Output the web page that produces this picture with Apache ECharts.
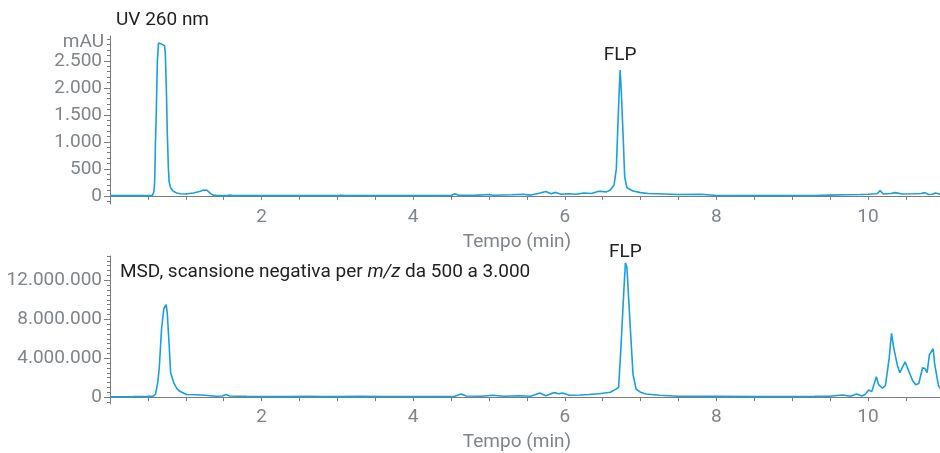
<!DOCTYPE html>
<html>
<head>
<meta charset="utf-8">
<script src="https://cdn.jsdelivr.net/npm/echarts@6/dist/echarts.min.js"></script>
<style>
  html, body { margin: 0; padding: 0; background: #fff; }
  #chart { width: 940px; height: 453px; }
</style>
</head>
<body>
<div id="chart"></div>
<script>
// UV 260 nm trace (time in min, absorbance in mAU)
const uvTime = [0, 0.2, 0.4, 0.52, 0.56, 0.58, 0.59, 0.6, 0.61, 0.625, 0.64, 0.66, 0.68, 0.7, 0.72, 0.73, 0.745, 0.755, 0.77, 0.78, 0.8, 0.83, 0.88, 0.93, 1.0, 1.1, 1.18, 1.24, 1.28, 1.32, 1.36, 1.42, 1.55, 1.58, 1.62, 2.0, 2.5, 3.0, 3.05, 3.1, 3.5, 4.0, 4.3, 4.5, 4.55, 4.6, 4.8, 5.0, 5.05, 5.3, 5.45, 5.55, 5.65, 5.75, 5.82, 5.88, 5.95, 6.05, 6.15, 6.25, 6.35, 6.45, 6.55, 6.6, 6.65, 6.68, 6.7, 6.72, 6.73, 6.745, 6.77, 6.79, 6.82, 6.9, 7.0, 7.1, 7.3, 7.5, 7.8, 8.0, 8.5, 9.0, 9.3, 9.5, 9.7, 9.9, 10.0, 10.12, 10.16, 10.2, 10.3, 10.36, 10.45, 10.6, 10.7, 10.75, 10.8, 10.85, 10.89, 10.95];
const uvValue = [5, 5, 5, 5, 10, 80, 280, 1000, 1500, 2500, 2830, 2840, 2810, 2830, 2780, 2630, 1900, 1210, 530, 260, 150, 90, 55, 40, 35, 55, 80, 110, 105, 50, 15, 5, 5, 15, 5, 5, 5, 5, 12, 5, 5, 5, 5, 8, 40, 10, 10, 25, 12, 20, 30, 15, 45, 80, 40, 65, 30, 40, 30, 55, 45, 85, 75, 110, 200, 500, 1300, 2010, 2330, 1950, 1090, 355, 150, 90, 60, 45, 35, 25, 30, 8, 5, 5, 8, 15, 20, 25, 30, 40, 100, 35, 45, 60, 35, 40, 45, 60, 25, 30, 55, 30];

// MSD negative scan trace (time in min, counts)
const msdTime = [0, 0.3, 0.5, 0.57, 0.6, 0.63, 0.65, 0.68, 0.71, 0.74, 0.755, 0.78, 0.8, 0.84, 0.88, 0.92, 1.01, 1.14, 1.25, 1.4, 1.48, 1.53, 1.58, 1.8, 2.0, 2.4, 2.6, 2.8, 3.0, 3.3, 3.6, 4.0, 4.3, 4.55, 4.63, 4.7, 4.9, 5.05, 5.2, 5.4, 5.55, 5.67, 5.75, 5.86, 5.92, 5.97, 6.06, 6.2, 6.32, 6.45, 6.5, 6.6, 6.67, 6.71, 6.74, 6.78, 6.8, 6.82, 6.86, 6.9, 6.94, 7.0, 7.07, 7.25, 7.5, 7.8, 8.0, 8.5, 9.0, 9.3, 9.49, 9.66, 9.77, 9.85, 9.92, 9.96, 10.01, 10.05, 10.11, 10.14, 10.19, 10.23, 10.28, 10.31, 10.34, 10.39, 10.42, 10.49, 10.53, 10.59, 10.63, 10.67, 10.72, 10.75, 10.78, 10.81, 10.86, 10.88, 10.93, 10.95];
const msdValue = [50000, 60000, 80000, 100000, 300000, 1500000, 3000000, 7000000, 9100000, 9500000, 8700000, 5400000, 2500000, 1500000, 900000, 600000, 270000, 250000, 200000, 100000, 120000, 270000, 120000, 80000, 70000, 60000, 90000, 60000, 60000, 80000, 70000, 70000, 60000, 100000, 330000, 120000, 100000, 200000, 100000, 150000, 100000, 430000, 150000, 470000, 350000, 420000, 200000, 220000, 270000, 350000, 400000, 500000, 800000, 1000000, 5000000, 11100000, 13800000, 13300000, 7700000, 2350000, 840000, 500000, 330000, 200000, 100000, 80000, 100000, 60000, 70000, 80000, 100000, 230000, 100000, 330000, 120000, 270000, 740000, 570000, 2090000, 1280000, 940000, 1180000, 4030000, 6550000, 5040000, 3190000, 2520000, 3630000, 2850000, 1680000, 1280000, 1410000, 3020000, 2950000, 2520000, 4360000, 4970000, 3360000, 1180000, 900000];

const uvTicks = [0, 500, 1000, 1500, 2000, 2500];
const msdTicks = [0, 4000000, 8000000, 12000000];
const timeTicks = [2, 4, 6, 8, 10];

const uvMinor = [];
for (let v = -100; v <= 2900; v += 100) uvMinor.push(v);
const msdMinor = [];
for (let v = -500000; v <= 14500000; v += 500000) msdMinor.push(v);
const timeMinor = [];
for (let v = 0.5; v <= 10.5; v += 0.5) timeMinor.push(v);

const uvData = uvTime.map((t, i) => [t, uvValue[i]]);
const msdData = msdTime.map((t, i) => [t, msdValue[i]]);

const lineColor = '#1a9fe0';
const axisColor = '#7c7c7c';
const labelColor = '#80858a';
const font = 'Roboto, "Noto Sans", sans-serif';
const fs = 19;

const dotted = v => String(v).replace(/\B(?=(\d{3})+(?!\d))/g, '.');

function xAxisFor(gridIndex) {
  return {
    type: 'value', gridIndex, min: 0, max: 10.95,
    axisLine: { lineStyle: { color: axisColor, width: 1 } },
    axisTick: { show: true, length: 4, customValues: timeMinor, lineStyle: { color: axisColor } },
    axisLabel: { customValues: timeTicks, color: labelColor, fontSize: fs, fontFamily: font, margin: 4 },
    splitLine: { show: false },
    name: 'Tempo (min)', nameLocation: 'middle', nameGap: 29,
    nameTextStyle: { color: labelColor, fontSize: fs, fontFamily: font, padding: [0, 16, 0, 0] }
  };
}

function yAxesFor(gridIndex, min, max, ticks, minor) {
  return [{
    type: 'value', gridIndex, position: 'left', min, max,
    axisLine: { show: true, lineStyle: { color: axisColor, width: 1 } },
    axisTick: { show: true, length: 6, customValues: ticks, lineStyle: { color: axisColor } },
    axisLabel: { customValues: ticks, color: labelColor, fontSize: fs, fontFamily: font, margin: 8, formatter: dotted },
    splitLine: { show: false }
  }, {
    type: 'value', gridIndex, position: 'left', offset: 0, min, max,
    axisLine: { show: false },
    axisTick: { show: true, length: 3, customValues: minor, lineStyle: { color: axisColor } },
    axisLabel: { show: false },
    splitLine: { show: false }
  }];
}

function flp(coord, distance) {
  return {
    symbol: 'circle', symbolSize: 0,
    label: { show: true, position: 'top', distance, formatter: 'FLP', color: '#222', fontSize: fs, fontFamily: font },
    data: [{ coord }]
  };
}

const chart = echarts.init(document.getElementById('chart'));
chart.setOption({
  animation: false,
  title: [
    { text: 'UV 260 nm', left: 116, top: 11, padding: 0, textStyle: { color: '#222', fontSize: fs, fontWeight: 'normal', fontFamily: font } },
    { text: 'mAU', right: 836, top: 33, padding: 0, textStyle: { color: labelColor, fontSize: fs, fontWeight: 'normal', fontFamily: font } },
    {
      text: '{n|MSD, scansione negativa per }{i|m/z}{n| da 500 a 3.000}', left: 120, top: 263, padding: 0,
      textStyle: { fontWeight: 'normal', rich: {
        n: { color: '#222', fontSize: fs, fontWeight: 'normal', fontFamily: font },
        i: { color: '#222', fontSize: fs, fontWeight: 'normal', fontFamily: font, fontStyle: 'italic' }
      } }
    }
  ],
  grid: [
    { left: 110, right: 0, top: 36, height: 168 },
    { left: 110, right: 0, top: 256, height: 151 }
  ],
  xAxis: [xAxisFor(0), xAxisFor(1)],
  yAxis: [
    ...yAxesFor(0, -150, 2960, uvTicks, uvMinor),
    ...yAxesFor(1, -700000, 14500000, msdTicks, msdMinor)
  ],
  series: [
    {
      type: 'line', xAxisIndex: 0, yAxisIndex: 0, data: uvData, showSymbol: false,
      lineStyle: { color: lineColor, width: 1.6 }, itemStyle: { color: lineColor },
      markPoint: flp([6.73, 2330], 5)
    },
    {
      type: 'line', xAxisIndex: 1, yAxisIndex: 2, data: msdData, showSymbol: false,
      lineStyle: { color: lineColor, width: 1.6 }, itemStyle: { color: lineColor },
      markPoint: flp([6.8, 13800000], 1)
    }
  ]
});
</script>
</body>
</html>
